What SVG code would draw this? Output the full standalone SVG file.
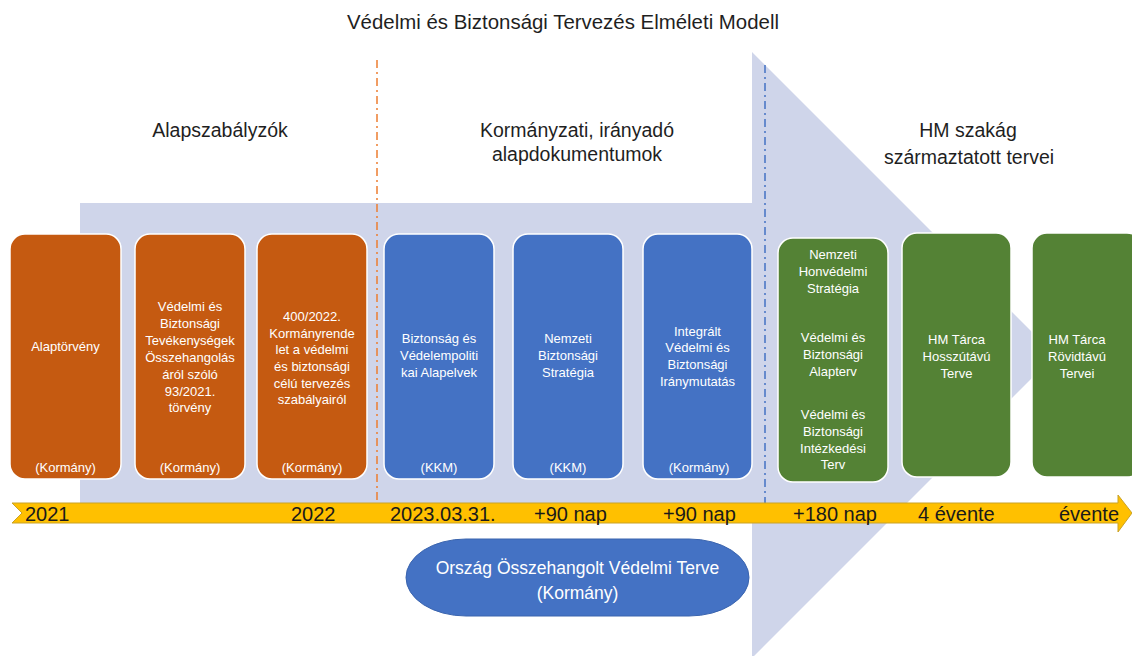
<svg xmlns="http://www.w3.org/2000/svg" width="1132" height="656" viewBox="0 0 1132 656">
<defs>
<style>
.t{font-family:"Liberation Sans",Arial,sans-serif}
.h{font-size:19.5px;fill:#1f1f1f;text-anchor:middle}
.b{font-size:13px;fill:#ffffff;text-anchor:middle}
.tl{font-size:20px;fill:#1a1a1a}
.box{stroke:#ffffff;stroke-width:1.5}
.or{fill:#C55A11}
.bl{fill:#4472C4}
.gr{fill:#548235}
</style>
</defs>
<rect width="1132" height="656" fill="#ffffff"/>
<g id="bigarrow">
<path d="M80,203 H752 V52 L1055,355 L752,658 V507 H80 Z" fill="#CFD5EA"/>
</g>
<g id="title" class="t">
<text class="h" x="563" y="29" textLength="432" lengthAdjust="spacingAndGlyphs">Védelmi és Biztonsági Tervezés Elméleti Modell</text>
</g>
<g id="headings" class="t">
<text class="h" x="220" y="137">Alapszabályzók</text>
<text class="h" x="577" y="137">Kormányzati, irányadó</text>
<text class="h" x="577" y="161">alapdokumentumok</text>
<text class="h" x="968" y="137">HM szakág</text>
<text class="h" x="969" y="164">származtatott tervei</text>
</g>
<g id="connectors">
<line x1="377" y1="60" x2="377" y2="503" stroke="#ED7D31" stroke-width="1.5" stroke-dasharray="8,4,2,4"/>
<line x1="765" y1="65" x2="765" y2="503" stroke="#4472C4" stroke-width="1.5" stroke-dasharray="8,4,2,4"/>
</g>
<g id="timeline">
<path d="M12,503 H1118 V495 L1132,513 L1118,532 V523 H12 L22,513 Z" fill="#FFC000" stroke="#C9A227" stroke-width="1"/>
<g class="t tl">
<text x="25" y="521">2021</text>
<text x="291" y="521">2022</text>
<text x="390" y="521">2023.03.31.</text>
<text x="534" y="521">+90 nap</text>
<text x="663" y="521">+90 nap</text>
<text x="793" y="521">+180 nap</text>
<text x="918" y="521">4 évente</text>
<text x="1059" y="521">évente</text>
</g>
</g>
<g id="n1" class="t">
<rect class="box or" x="10" y="234" width="111" height="245" rx="15"/>
<text class="b" x="65.5" y="351">Alaptörvény</text>
<text class="b" x="65.5" y="472">(Kormány)</text>
</g>
<g id="n2" class="t">
<rect class="box or" x="135" y="234" width="110" height="245" rx="15"/>
<text class="b" x="190" y="311">Védelmi és</text>
<text class="b" x="190" y="328">Biztonsági</text>
<text class="b" x="190" y="345">Tevékenységek</text>
<text class="b" x="190" y="362">Összehangolás</text>
<text class="b" x="190" y="379">áról szóló</text>
<text class="b" x="190" y="396">93/2021.</text>
<text class="b" x="190" y="412">törvény</text>
<text class="b" x="190" y="472">(Kormány)</text>
</g>
<g id="n3" class="t">
<rect class="box or" x="257" y="234" width="110" height="245" rx="15"/>
<text class="b" x="312" y="321">400/2022.</text>
<text class="b" x="312" y="338">Kormányrende</text>
<text class="b" x="312" y="354">let a védelmi</text>
<text class="b" x="312" y="371">és biztonsági</text>
<text class="b" x="312" y="388">célú tervezés</text>
<text class="b" x="312" y="404">szabályairól</text>
<text class="b" x="312" y="472">(Kormány)</text>
</g>
<g id="n4" class="t">
<rect class="box bl" x="384" y="234" width="110" height="245" rx="15"/>
<text class="b" x="439" y="343">Biztonság és</text>
<text class="b" x="439" y="360">Védelempoliti</text>
<text class="b" x="439" y="377">kai Alapelvek</text>
<text class="b" x="439" y="472">(KKM)</text>
</g>
<g id="n5" class="t">
<rect class="box bl" x="513" y="234" width="110" height="245" rx="15"/>
<text class="b" x="568" y="343">Nemzeti</text>
<text class="b" x="568" y="360">Biztonsági</text>
<text class="b" x="568" y="377">Stratégia</text>
<text class="b" x="568" y="472">(KKM)</text>
</g>
<g id="n6" class="t">
<rect class="box bl" x="643" y="234" width="109" height="245" rx="15"/>
<text class="b" x="697.5" y="336">Integrált</text>
<text class="b" x="697.5" y="352">Védelmi és</text>
<text class="b" x="697.5" y="369">Biztonsági</text>
<text class="b" x="697.5" y="386">Iránymutatás</text>
<text class="b" x="699" y="472">(Kormány)</text>
</g>
<g id="n7" class="t">
<rect class="box gr" x="778" y="238" width="110" height="244" rx="15"/>
<text class="b" x="833" y="259">Nemzeti</text>
<text class="b" x="833" y="276">Honvédelmi</text>
<text class="b" x="833" y="293">Stratégia</text>
<text class="b" x="833" y="342">Védelmi és</text>
<text class="b" x="833" y="359">Biztonsági</text>
<text class="b" x="833" y="376">Alapterv</text>
<text class="b" x="833" y="419">Védelmi és</text>
<text class="b" x="833" y="436">Biztonsági</text>
<text class="b" x="833" y="453">Intézkedési</text>
<text class="b" x="833" y="469">Terv</text>
</g>
<g id="n8" class="t">
<rect class="box gr" x="902" y="233" width="109" height="244" rx="15"/>
<text class="b" x="956.5" y="344">HM Tárca</text>
<text class="b" x="956.5" y="361">Hosszútávú</text>
<text class="b" x="956.5" y="378">Terve</text>
</g>
<g id="n9" class="t">
<rect class="box gr" x="1032" y="233" width="110" height="244" rx="15"/>
<text class="b" x="1077" y="344">HM Tárca</text>
<text class="b" x="1077" y="361">Rövidtávú</text>
<text class="b" x="1077" y="378">Tervei</text>
</g>
<g id="n10" class="t">
<rect x="406" y="539" width="343" height="77" rx="60" ry="38.5" fill="#4472C4" stroke="#3A64AE" stroke-width="1"/>
<text x="577.5" y="574" font-size="17.5" fill="#ffffff" text-anchor="middle">Ország Összehangolt Védelmi Terve</text>
<text x="577.5" y="599" font-size="17.5" fill="#ffffff" text-anchor="middle">(Kormány)</text>
</g>
</svg>
